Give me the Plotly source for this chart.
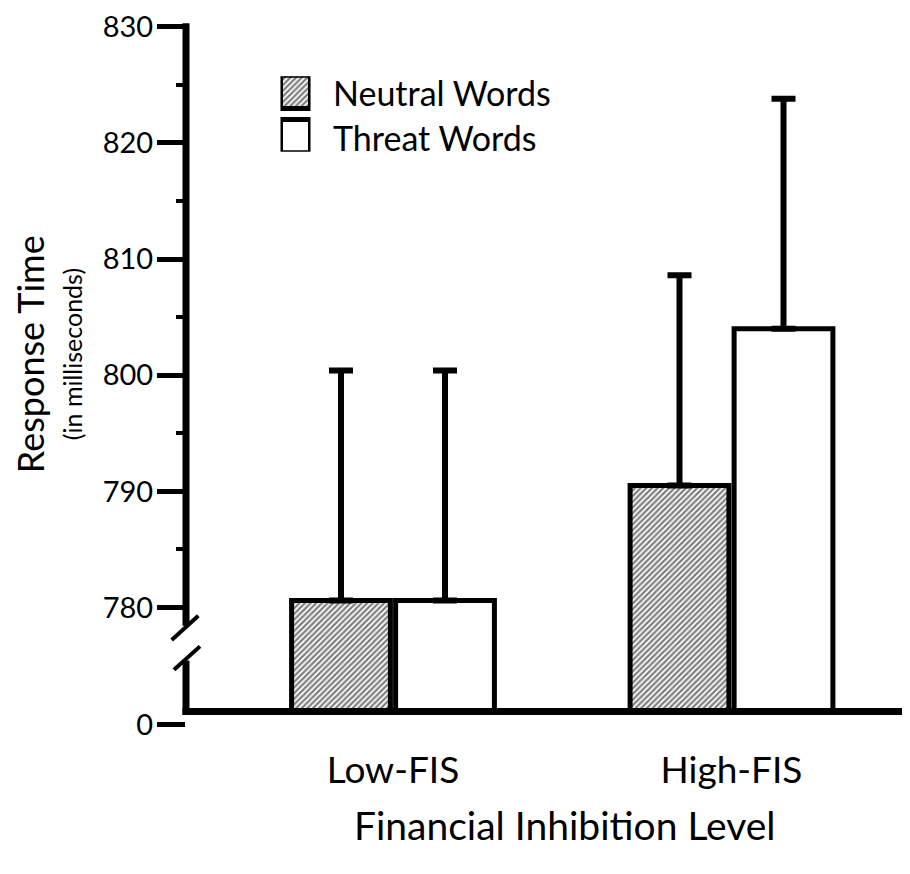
import plotly.graph_objects as go

categories = ["Low-FIS", "High-FIS"]
neutral_means = [780.6, 790.5]
threat_means = [780.6, 804.0]
neutral_upper = [800.4, 808.6]
threat_upper = [800.4, 823.8]
series_names = ["Neutral Words", "Threat Words"]
y_tick_values = [769.92, 780, 790, 800, 810, 820, 830]
y_tick_labels = ["0", "780", "790", "800", "810", "820", "830"]
y_minor_ticks = [785, 795, 805, 815, 825]
x_title = "Financial Inhibition Level"
y_title = "Response Time"
y_subtitle = "(in milliseconds)"

FLOOR = 771.06  # where the (broken) axis floor sits in axis units
FONT = "Lato"

# page offset (body margin of the html page)
OFF = 8
PL, PT, PW, PH = 186, 11, 724, 736  # plot area in page pixels


def px(xp):
    return (xp - PL) / PW


def py(yp):
    return (PT + PH - yp) / PH


def lengths(means):
    return [m - FLOOR for m in means]


def errs(means, upper):
    return [u - m for m, u in zip(means, upper)]


pattern = dict(shape="/", fgcolor="black", bgcolor="white", size=4, solidity=0.55)

fig = go.Figure()

fig.add_trace(go.Bar(
    x=categories, y=lengths(neutral_means), base=FLOOR, name=series_names[0],
    marker=dict(color="white", line=dict(color="black", width=5), pattern=pattern),
    error_y=dict(type="data", symmetric=False, array=errs(neutral_means, neutral_upper),
                 arrayminus=[0, 0], color="black", thickness=6, width=12),
    showlegend=False,
))
fig.add_trace(go.Bar(
    x=categories, y=lengths(threat_means), base=FLOOR, name=series_names[1],
    marker=dict(color="white", line=dict(color="black", width=5)),
    error_y=dict(type="data", symmetric=False, array=errs(threat_means, threat_upper),
                 arrayminus=[0, 0], color="black", thickness=6, width=12),
    showlegend=False,
))

# custom legend swatches (inset axis)
fig.add_trace(go.Bar(
    x=[1], y=[1], orientation="h", xaxis="x2", yaxis="y2", cliponaxis=False,
    marker=dict(color="white", line=dict(color="black", width=5), pattern=pattern),
    width=0.75, showlegend=False, hoverinfo="skip",
))
fig.add_trace(go.Bar(
    x=[1], y=[0], orientation="h", xaxis="x2", yaxis="y2", cliponaxis=False,
    marker=dict(color="white", line=dict(color="black", width=5)),
    width=0.75, showlegend=False, hoverinfo="skip",
))

W, H = 910 - OFF, 874 - OFF
ml, mt = PL - OFF, PT - OFF
mr = W - ml - PW
mb = H - mt - PH

fig.update_layout(
    width=W, height=H,
    margin=dict(l=ml, r=mr, t=mt, b=mb),
    paper_bgcolor="white", plot_bgcolor="white",
    barmode="group", bargap=0.3855, bargroupgap=0.05,
    font=dict(family=FONT, color="black"),
    xaxis=dict(
        range=[-0.6115, 1.5273], showline=False, showgrid=False, zeroline=False,
        ticks="", tickfont=dict(size=37, family=FONT), ticklabelstandoff=-2,
    ),
    yaxis=dict(
        range=[768, 831], showline=False, showgrid=False, zeroline=False,
        tickmode="array", tickvals=y_tick_values, ticktext=y_tick_labels,
        ticks="outside", ticklen=28, tickwidth=5, tickcolor="black",
        tickfont=dict(size=29, family=FONT), ticklabeloverflow="allow",
        ticklabelstandoff=-2,
        minor=dict(tickmode="array", tickvals=y_minor_ticks, ticks="outside",
                   ticklen=9, tickwidth=4, tickcolor="black", showgrid=False),
    ),
    xaxis2=dict(domain=[px(280.5), px(310.5)], range=[0, 1], anchor="y2", visible=False, fixedrange=True),
    yaxis2=dict(domain=[py(148.5), py(72.5)], range=[-0.354, 1.354], anchor="x2", visible=False, fixedrange=True),
)

# axis lines (broken y axis)
line = dict(color="black", width=7)
fig.add_shape(type="line", xref="paper", yref="y", x0=px(182.5), x1=1, y0=FLOOR, y1=FLOOR, line=line)
fig.add_shape(type="line", xref="paper", yref="y", x0=0, x1=0, y0=830.3, y1=778.43, line=line)
fig.add_shape(type="line", xref="paper", yref="y", x0=0, x1=0, y0=775.44, y1=FLOOR - 0.3, line=line)
slash = dict(color="black", width=4)
fig.add_shape(type="line", xref="paper", yref="y", x0=px(171.7), y0=777.21, x1=px(198.3), y1=779.29, line=slash)
fig.add_shape(type="line", xref="paper", yref="y", x0=px(174), y0=774.64, x1=px(200), y1=776.66, line=slash)

# legend text
fig.add_annotation(text=series_names[0], xref="paper", yref="paper", x=px(331), y=py(89),
                   xanchor="left", yanchor="middle", showarrow=False, font=dict(size=34, family=FONT))
fig.add_annotation(text=series_names[1], xref="paper", yref="paper", x=px(331), y=py(134),
                   xanchor="left", yanchor="middle", showarrow=False, font=dict(size=34, family=FONT))

# x axis title
fig.add_annotation(text=x_title, xref="paper", yref="paper", x=px(565), y=py(825),
                   xanchor="center", yanchor="middle", showarrow=False, font=dict(size=39, family=FONT))

# y axis title
fig.add_annotation(text=y_title, xref="paper", yref="paper", x=px(30), y=py(352),
                   xanchor="center", yanchor="middle", textangle=-90, showarrow=False,
                   font=dict(size=36, family=FONT))
fig.add_annotation(text=y_subtitle, xref="paper", yref="paper", x=px(72), y=py(352),
                   xanchor="center", yanchor="middle", textangle=-90, showarrow=False,
                   font=dict(size=25, family=FONT))

fig.write_html("out.html")
